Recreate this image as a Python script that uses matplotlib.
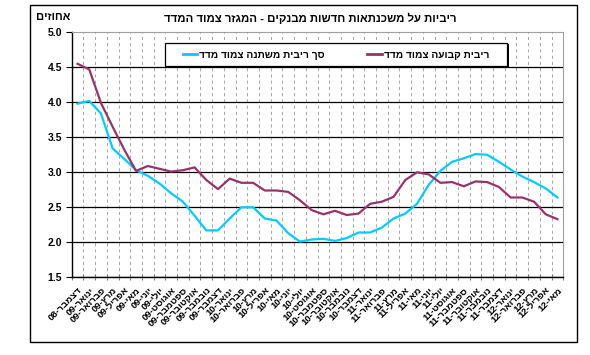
import numpy as np
import matplotlib
matplotlib.use("Agg")
import matplotlib.pyplot as plt
from matplotlib.patches import Rectangle
from matplotlib.lines import Line2D

plt.rcParams['font.family'] = ['Liberation Sans', 'DejaVu Sans']

title = "ריביות על משכנתאות חדשות מבנקים - המגזר צמוד המדד"
y_unit = "אחוזים"
series_names = ["סך ריבית משתנה צמוד מדד", "ריבית קבועה צמוד מדד"]

tick_labels = [
    "דצמבר-08",
    "ינואר-09", "פברואר-09", "מרץ-09", "אפריל-09", "מאי-09", "יוני-09",
    "יולי-09", "אוגוסט-09", "ספטמבר-09", "אוקטובר-09", "נובמבר-09", "דצמבר-09",
    "ינואר-10", "פברואר-10", "מרץ-10", "אפריל-10", "מאי-10", "יוני-10",
    "יולי-10", "אוגוסט-10", "ספטמבר-10", "אוקטובר-10", "נובמבר-10", "דצמבר-10",
    "ינואר-11", "פברואר-11", "מרץ-11", "אפריל-11", "מאי-11", "יוני-11",
    "יולי-11", "אוגוסט-11", "ספטמבר-11", "אוקטובר-11", "נובמבר-11", "דצמבר-11",
    "ינואר-12", "פברואר-12", "מרץ-12", "אפריל-12", "מאי-12",
]

variable_rate = [3.98, 4.02, 3.84, 3.34, 3.19, 3.03, 2.95, 2.84, 2.70, 2.58, 2.38, 2.17,
                 2.17, 2.34, 2.50, 2.50, 2.34, 2.31, 2.13, 2.01, 2.04, 2.05, 2.02, 2.06,
                 2.14, 2.14, 2.21, 2.34, 2.41, 2.55, 2.82, 3.02, 3.15, 3.20, 3.26, 3.25,
                 3.15, 3.04, 2.94, 2.86, 2.77, 2.64]
fixed_rate = [4.55, 4.47, 3.99, 3.65, 3.32, 3.02, 3.09, 3.05, 3.01, 3.03, 3.07, 2.89,
              2.76, 2.91, 2.85, 2.85, 2.74, 2.74, 2.72, 2.60, 2.46, 2.40, 2.45, 2.39,
              2.41, 2.55, 2.58, 2.65, 2.89, 3.00, 2.97, 2.85, 2.86, 2.80, 2.87, 2.86,
              2.79, 2.64, 2.64, 2.58, 2.40, 2.33]

y_ticks = [1.5, 2.0, 2.5, 3.0, 3.5, 4.0, 4.5, 5.0]


def rtl(s):
    return s[::-1]


def rtl_label(s):
    name, yy = s.split("-")
    return f"{yy}-{name[::-1]}"


W, H = 590, 355
fig = plt.figure(figsize=(W / 100, H / 100), dpi=100)
L, R, T, B = 71.7, 563.3, 32.3, 277.3
ax = fig.add_axes([L / W, 1 - B / H, (R - L) / W, (B - T) / H])

n = len(tick_labels)
x = np.arange(n) + 0.5

cyan = "#00CCFF"
maroon = "#993366"
ax.plot(x, variable_rate, color=cyan, lw=1.6, zorder=3, solid_joinstyle='round')
ax.plot(x, fixed_rate, color=maroon, lw=1.6, zorder=3, solid_joinstyle='round')

ax.set_xlim(0, n)
ax.set_ylim(1.5, 5.0)

ax.set_xticks(np.arange(0, n + 1))
ax.set_xticklabels([])
ax.set_xticks(x, minor=True)
ax.set_xticklabels([rtl_label(s) for s in tick_labels], minor=True,
                   rotation=45, ha='right', va='top', rotation_mode='anchor',
                   fontsize=6.8, fontweight='bold')
ax.tick_params(axis='x', which='minor', length=0, pad=6)
ax.tick_params(axis='x', which='major', direction='inout', length=5, width=0.8,
               color='#808080')

ax.set_yticks(y_ticks)
ax.set_yticklabels([f"{v:.1f}" for v in y_ticks], fontsize=7.5, fontweight='bold')
ax.tick_params(axis='y', direction='out', length=4, width=0.8, pad=3)

ax.grid(axis='x', which='major', color='#a8a8a8', lw=0.75, ls=(0, (3, 3)), zorder=1)
ax.grid(axis='y', which='major', color='black', lw=0.9, zorder=1)
for gl, v in zip(ax.get_ygridlines(), y_ticks):
    if v >= 5.0:
        gl.set_visible(False)
ax.set_axisbelow(True)

for s in ['top', 'right']:
    ax.spines[s].set_color('#a0a0a0')
    ax.spines[s].set_linewidth(0.8)
for s in ['left', 'bottom']:
    ax.spines[s].set_color('black')
    ax.spines[s].set_linewidth(1.0)

# titles
fig.text(310 / W, 1 - 18 / H, rtl(title), ha='center', va='center',
         fontsize=8.2, fontweight='bold')
fig.text(53 / W, 1 - 17 / H, rtl(y_unit), ha='center', va='center',
         fontsize=8, fontweight='bold')

# legend box
lx0, lx1, ly0, ly1 = 165, 507, 43, 66
ax.add_patch(Rectangle((lx0 / W + 1.5 / W, 1 - (ly1 + 1.5) / H), (lx1 - lx0) / W,
                       (ly1 - ly0) / H, transform=fig.transFigure,
                       facecolor='black', edgecolor='black', lw=0, zorder=4,
                       clip_on=False))
ax.add_patch(Rectangle((lx0 / W, 1 - ly1 / H), (lx1 - lx0) / W, (ly1 - ly0) / H,
                       transform=fig.transFigure, facecolor='white',
                       edgecolor='black', lw=0.9, zorder=4, clip_on=False))
handles = [Line2D([], [], color=cyan, lw=2), Line2D([], [], color=maroon, lw=2)]
leg = ax.legend(handles, [rtl(s) for s in series_names], ncol=2, frameon=False,
                loc='center', bbox_to_anchor=((lx0 + lx1) / 2 / W, 1 - (ly0 + ly1) / 2 / H),
                bbox_transform=fig.transFigure, handlelength=1.4, handletextpad=0.2,
                columnspacing=4.2, prop={'size': 7.3, 'weight': 'bold'})
leg.set_zorder(5)

# outer frame
fig.add_artist(Rectangle((30 / W, 1 - 342 / H), 547 / W, 337 / H,
                         transform=fig.transFigure, fill=False,
                         edgecolor='black', lw=1.0))

fig.savefig("out.png", dpi=100)
